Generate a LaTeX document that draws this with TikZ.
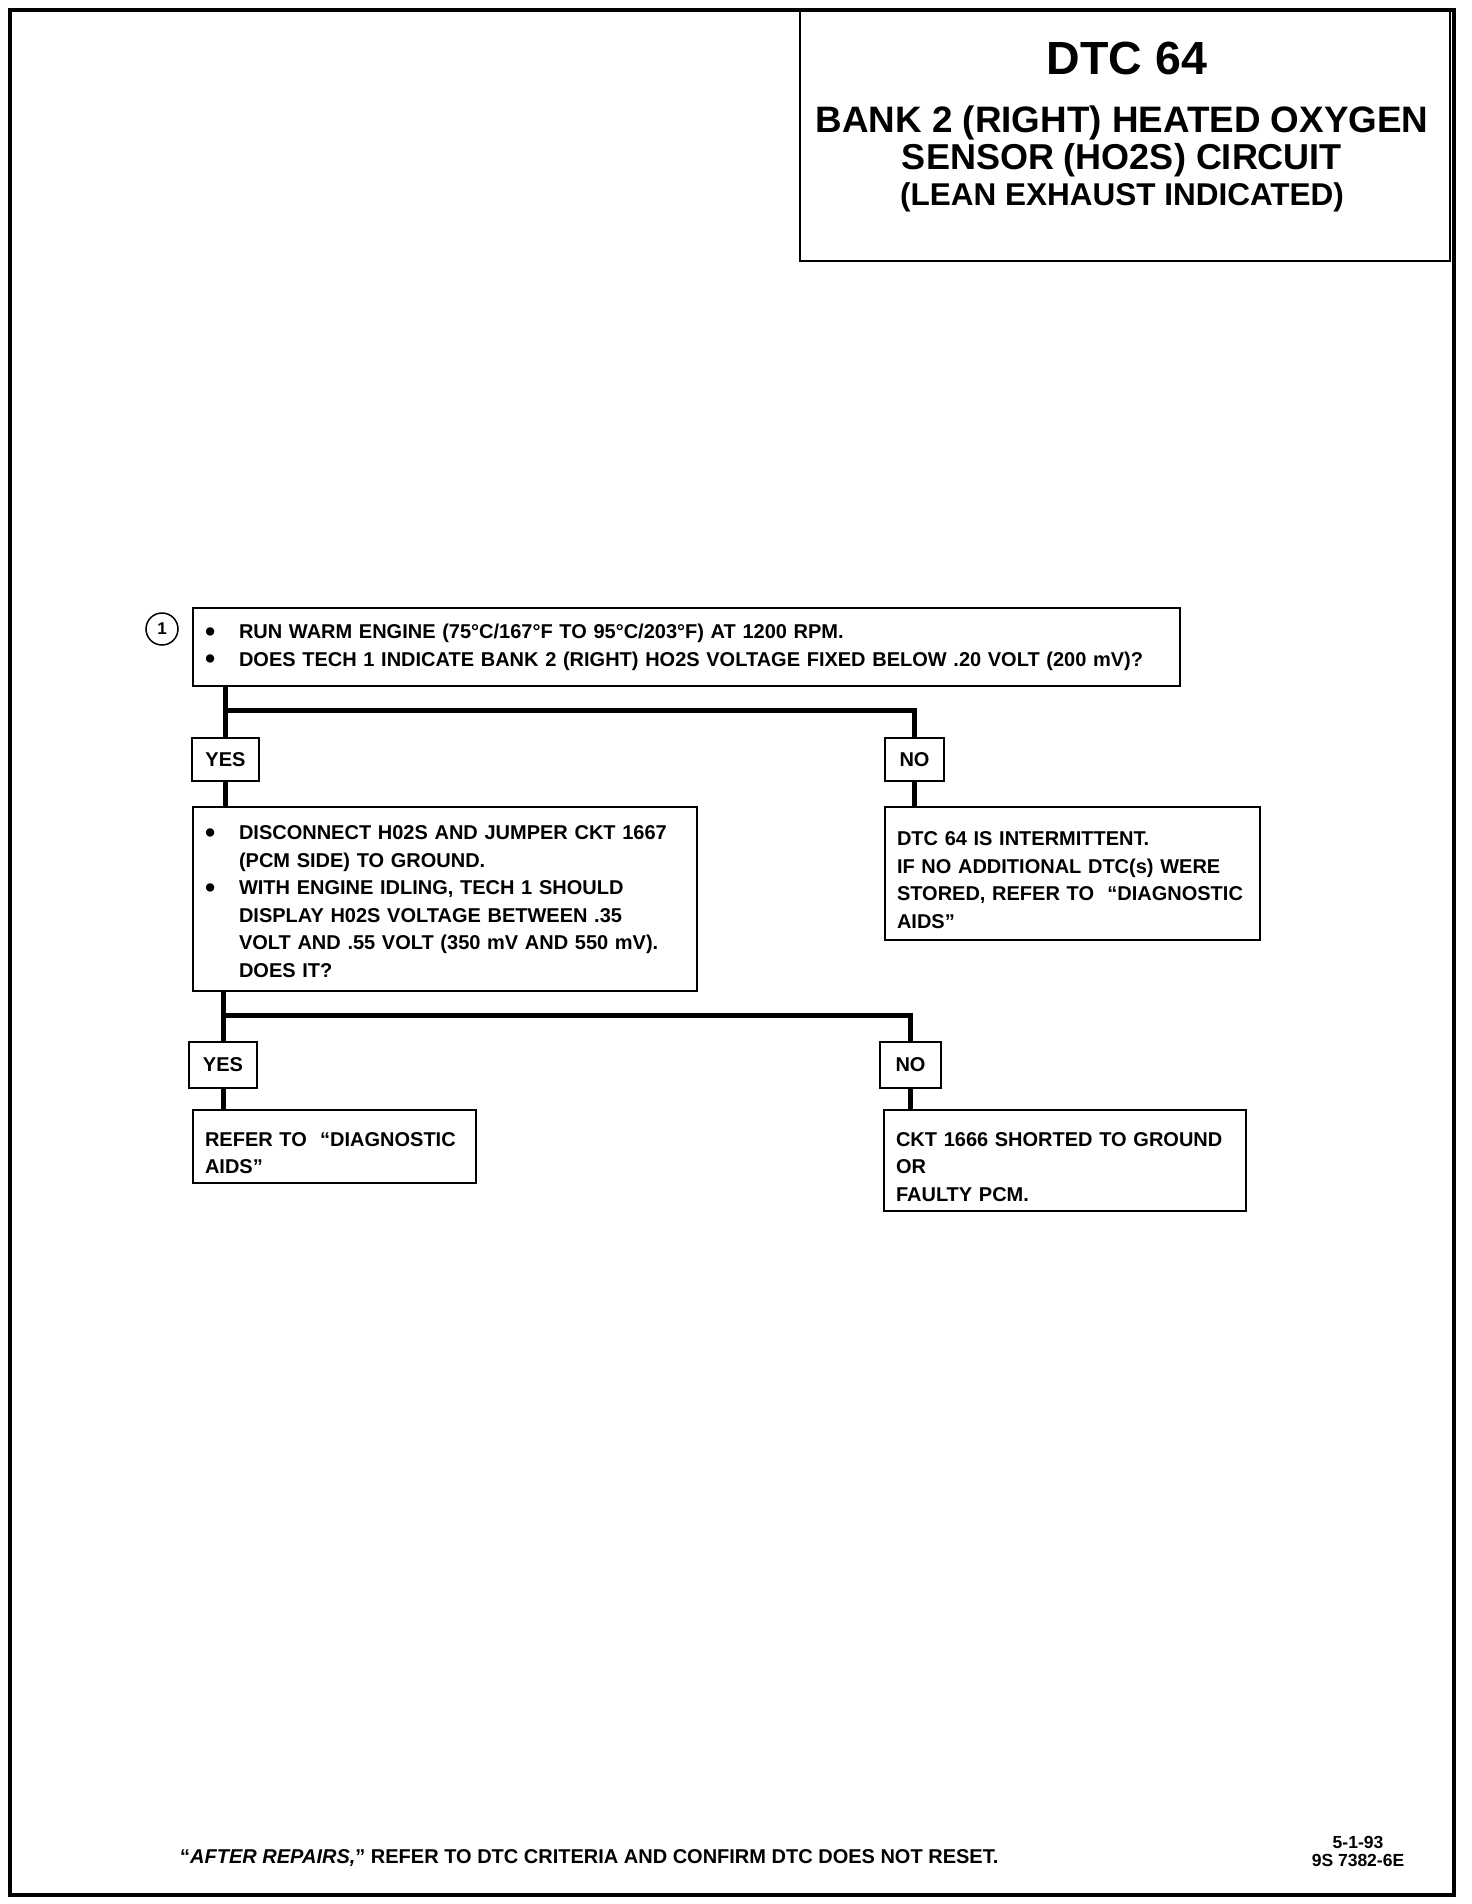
\documentclass[tikz,border=0pt]{standalone}
\usepackage{fontspec}
\setmainfont{Liberation Sans}
\usepackage{tikz}
\usetikzlibrary{positioning, calc}
\newcommand{\bodyfont}{\fontsize{20}{27.5}\selectfont\bfseries}
\newcommand{\bul}{\raisebox{-2.5pt}{\scalebox{1.45}{\textbullet}}}
\newcommand{\toppad}{\rule{0pt}{27pt}}
\tikzset{
  frame/.style={draw, line width=3.5pt},
  stepbox/.style={
    draw, line width=2pt, anchor=north west,
    inner xsep=12pt, inner ysep=0pt, align=left, font=\bodyfont
  },
  answer/.style={draw, line width=2pt, inner sep=0pt, font=\bodyfont},
  flow/.style={line width=5pt, line join=miter},
  titleline/.style={font=\bfseries, inner sep=0pt},
}

\begin{document}
\begin{tikzpicture}[x=1pt, y=-1pt]
  \useasboundingbox (0,0) rectangle (1472,1904);
  \draw[frame] (10,10) rectangle (1454,1895);

  % title block
  \node[draw, line width=2pt, anchor=north west, minimum width=650pt,
        minimum height=250pt, inner sep=0pt] (T) at (799,10) {};
  \node[titleline, font=\fontsize{46.5}{48}\selectfont\bfseries] (T1) at (1127,58) {DTC 64};
  \node[titleline, font=\fontsize{36.8}{40}\selectfont\bfseries] (T2) at (1122,123) {BANK 2 (RIGHT) HEATED OXYGEN};
  \node[titleline, font=\fontsize{36}{40}\selectfont\bfseries] (T3) at (1122,160) {SENSOR (HO2S) CIRCUIT};
  \node[titleline, font=\fontsize{31.5}{33}\selectfont\bfseries] (T4) at (1122,197) {(LEAN EXHAUST INDICATED)};

  % first test
  \node[draw, circle, line width=1.5pt, minimum size=32pt, inner sep=0pt,
        font=\fontsize{17}{18}\selectfont\bfseries] (C1) at (162,629) {1};
  \node[stepbox, text width=963pt, minimum height=78pt] (Q1) at (192,607) {%
    \begin{tabular}{@{}p{34pt}@{}l@{}}
      \bul & RUN WARM ENGINE (75°C/167°F TO 95°C/203°F) AT 1200 RPM.\\
      \bul & DOES TECH 1 INDICATE BANK 2 (RIGHT) HO2S VOLTAGE FIXED BELOW .20 VOLT (200 mV)?
    \end{tabular}};
  \node[answer, minimum width=67pt, minimum height=43pt] (Y1) at (225.5,759.5) {YES};
  \node[answer, minimum width=59pt, minimum height=43pt] (N1) at (914.5,759.5) {NO};
  \coordinate (B1) at (0,710);

  \node[stepbox, text width=480pt, minimum height=184pt] (Q2) at (192,806) {%
    \begin{tabular}{@{}p{34pt}@{}l@{}}
      \bul & \toppad DISCONNECT H02S AND JUMPER CKT 1667\\
           & (PCM SIDE) TO GROUND.\\
      \bul & WITH ENGINE IDLING, TECH 1 SHOULD\\
           & DISPLAY H02S VOLTAGE BETWEEN .35\\
           & VOLT AND .55 VOLT (350 mV AND 550 mV).\\
           & DOES IT?
    \end{tabular}};
  \node[stepbox, text width=351pt, minimum height=133pt] (D1) at (884,806) {%
    \toppad DTC 64 IS INTERMITTENT.\\
    IF NO ADDITIONAL DTC(s) WERE\\
    STORED, REFER TO ~“DIAGNOSTIC\\
    AIDS”};

  \draw[flow] (Q1.south -| Y1) -- (Y1.north);
  \draw[flow] (Y1 |- B1) -| (N1.north);
  \draw[flow] (Y1.south) -- (Y1.south |- Q2.north);
  \draw[flow] (N1.south) -- (N1.south |- D1.north);

  % second test
  \node[answer, minimum width=68pt, minimum height=46pt] (Y2) at (223,1065) {YES};
  \node[answer, minimum width=61pt, minimum height=46pt] (N2) at (910.5,1065) {NO};
  \coordinate (B2) at (0,1015);
  \node[stepbox, text width=259pt, minimum height=73pt] (R1) at (192,1109) {%
    \toppad REFER TO ~“DIAGNOSTIC\\
    AIDS”};
  \node[stepbox, text width=338pt, minimum height=101pt] (S1) at (883,1109) {%
    \toppad CKT 1666 SHORTED TO GROUND\\
    OR\\
    FAULTY PCM.};

  \draw[flow] (Q2.south -| Y2) -- (Y2.north);
  \draw[flow] (Y2 |- B2) -| (N2.north);
  \draw[flow] (Y2.south) -- (Y2.south |- R1.north);
  \draw[flow] (N2.south) -- (N2.south |- S1.north);

  % footer
  \node[anchor=west, inner sep=0pt, font=\bodyfont] (F1) at (180,1858)
    {“\textit{AFTER REPAIRS,}” REFER TO DTC CRITERIA AND CONFIRM DTC DOES NOT RESET.};
  \node[inner sep=0pt, font=\fontsize{17.5}{18}\selectfont\bfseries] (F2) at (1358,1842) {5-1-93};
  \node[inner sep=0pt, font=\fontsize{17.5}{18}\selectfont\bfseries] (F3) at (1358,1860) {9S 7382-6E};
\end{tikzpicture}
\end{document}
